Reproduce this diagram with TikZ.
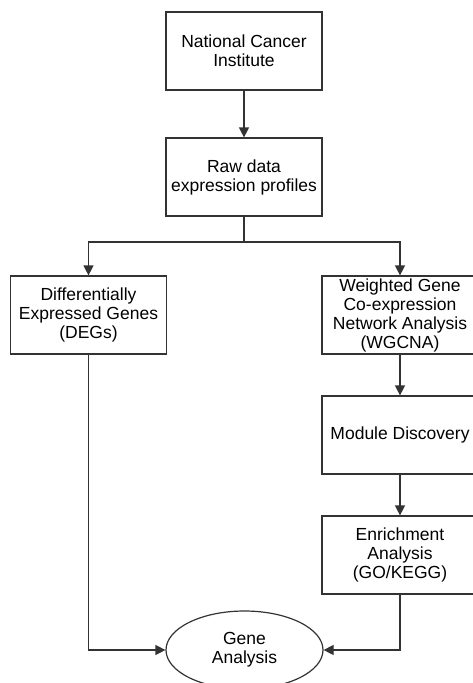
\documentclass[tikz,border=0pt]{standalone}
\usepackage{fontspec}
\setmainfont{Liberation Sans}
\usetikzlibrary{arrows.meta,shapes.geometric}
\begin{document}
\begin{tikzpicture}[x=1pt,y=-1pt,
  box/.style={draw=black!80,line width=1.2pt,minimum width=156pt,minimum height=78pt,align=center,inner sep=0pt,font=\fontsize{17.5}{19}\selectfont},
  oval/.style={draw=black!80,line width=1.2pt,ellipse,minimum width=157pt,minimum height=78pt,align=center,inner sep=0pt,font=\fontsize{17.5}{19}\selectfont},
  conn/.style={draw=black!80,line width=1.2pt,-{Triangle[length=10pt,width=10pt]}},
  line/.style={draw=black!80,line width=1.2pt}]
\useasboundingbox[fill=white] (0,0) rectangle (473,683);
\node[box] (nci) at (244,51) {National Cancer\\Institute};
\node[box] (raw) at (244,177) {Raw data\\expression profiles};
\node[box] (deg) at (88.5,315) {Differentially\\Expressed Genes\\(DEGs)};
\node[box] (wgc) at (400,315) {Weighted Gene\\Co-expression\\Network Analysis\\(WGCNA)};
\node[box] (mod) at (400,435) {Module Discovery};
\node[box] (enr) at (400,555) {Enrichment\\Analysis\\(GO/KEGG)};
\node[oval] (gene) at (244.5,650) {Gene\\Analysis};
\coordinate (split) at (244,242);
\draw[conn] (nci) -- (raw);
\draw[line] (raw.south) -- (split);
\draw[conn] (split) -| (deg.north);
\draw[conn] (split) -| (wgc.north);
\draw[conn] (wgc) -- (mod);
\draw[conn] (mod) -- (enr);
\draw[conn] (deg.south) |- (gene.west);
\draw[conn] (enr.south) |- (gene.east);
\end{tikzpicture}
\end{document}
